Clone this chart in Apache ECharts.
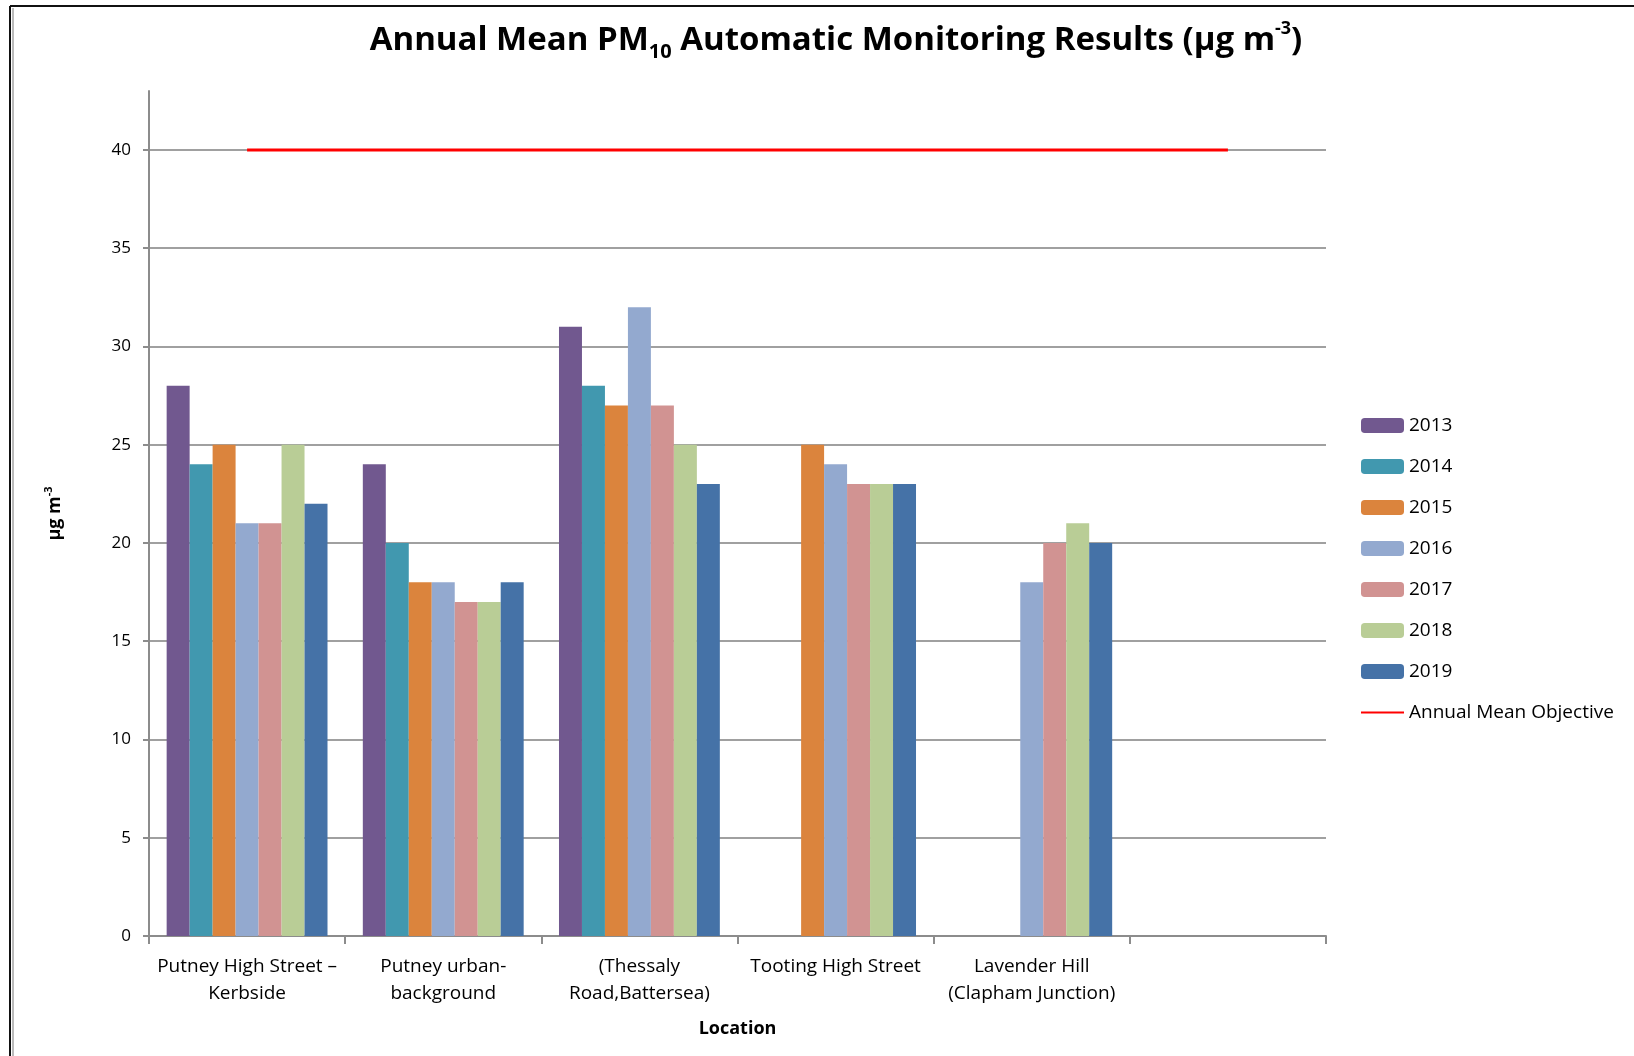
<!DOCTYPE html>
<html><head><meta charset="utf-8">
<script src="https://cdn.jsdelivr.net/npm/echarts@6/dist/echarts.min.js"></script>
<style>html,body{margin:0;padding:0;background:#fff}#c{width:1634px;height:1056px}</style>
</head><body><div id="c"></div>
<script>
const categories = ["Putney High Street \u2013\nKerbside", "Putney urban-\nbackground", "(Thessaly\nRoad,Battersea)", "Tooting High Street", "Lavender Hill\n(Clapham Junction)", ""];
const years = ["2013","2014","2015","2016","2017","2018","2019"];
const v2013 = [28, 24, 31, null, null, null];
const v2014 = [24, 20, 28, null, null, null];
const v2015 = [25, 18, 27, 25, null, null];
const v2016 = [21, 18, 32, 24, 18, null];
const v2017 = [21, 17, 27, 23, 20, null];
const v2018 = [25, 17, 25, 23, 21, null];
const v2019 = [22, 18, 23, 23, 20, null];
const objective = [40, 40, 40, 40, 40, 40];
const yTicks = [0, 5, 10, 15, 20, 25, 30, 35, 40];
const colors = ["#71588F","#4198AF","#DB843D","#93A9CF","#D19392","#B9CD96","#4572A7"];
const FONT = "Open Sans";
const seriesVals = [v2013, v2014, v2015, v2016, v2017, v2018, v2019];

const series = years.map((y, i) => ({
  name: y, type: 'bar', data: seriesVals[i], barGap: '0%', barCategoryGap: '18%',
  itemStyle: { color: colors[i] }
}));
series.push({
  name: 'Annual Mean Objective', type: 'line', data: objective, symbol: 'none',
  lineStyle: { color: '#FF0000', width: 3 }, itemStyle: { color: '#FF0000' }
});

const legendData = years.map(y => ({ name: y }));
legendData.push({ name: 'Annual Mean Objective', itemStyle: { opacity: 0 } });

const chart = echarts.init(document.getElementById('c'));
chart.setOption({
  animation: false,
  textStyle: { fontFamily: FONT },
  title: {
    text: '{t|Annual Mean PM}{sub|10}{t| Automatic Monitoring Results (\u00b5g m}{sup|-3}{t|)}',
    left: 831, textAlign: 'center', top: 15,
    textStyle: {
      rich: {
        t: { fontFamily: FONT, fontWeight: 'bold', fontSize: 33, color: '#000', lineHeight: 42 },
        sub: { fontFamily: FONT, fontWeight: 'bold', fontSize: 20, color: '#000', verticalAlign: 'bottom' },
        sup: { fontFamily: FONT, fontWeight: 'bold', fontSize: 18, color: '#000', verticalAlign: 'top' }
      }
    }
  },
  legend: {
    orient: 'vertical', left: 1355, top: 411, itemWidth: 43, itemHeight: 15, itemGap: 22,
    textStyle: { fontFamily: FONT, fontSize: 19, color: '#000', padding: [0,0,0,0] },
    data: legendData
  },
  grid: { left: 149, right: 308, top: 91, bottom: 120, containLabel: false },
  xAxis: {
    type: 'category', data: categories,
    name: 'Location', nameLocation: 'middle', nameGap: 84,
    nameTextStyle: { fontFamily: FONT, fontWeight: 'bold', fontSize: 18, color: '#000' },
    axisLine: { lineStyle: { color: '#8c8c8c', width: 2 } },
    axisTick: { show: true, length: 8, lineStyle: { color: '#8c8c8c', width: 2 } },
    axisLabel: { interval: 0, fontFamily: FONT, fontSize: 19, color: '#000', lineHeight: 27, margin: 17, verticalAlign: 'top' }
  },
  yAxis: {
    type: 'value', min: 0, max: 43, interval: 5,
    name: '{a|\u00b5g m}{s|-3}', nameLocation: 'middle', nameGap: 82, nameRotate: 90,
    nameTextStyle: { rich: {
      a: { fontFamily: FONT, fontWeight: 'bold', fontSize: 18, color: '#000', lineHeight: 24 },
      s: { fontFamily: FONT, fontWeight: 'bold', fontSize: 11, color: '#000', verticalAlign: 'top' }
    } },
    axisLine: { show: true, lineStyle: { color: '#8c8c8c', width: 2 } },
    axisTick: { show: true, length: 6, customValues: yTicks, lineStyle: { color: '#8c8c8c', width: 2 } },
    axisLabel: { customValues: yTicks, fontFamily: FONT, fontSize: 17, color: '#000', margin: 18 },
    splitLine: { show: true, lineStyle: { color: ['#a0a0a0','#a0a0a0','#a0a0a0','#a0a0a0','#a0a0a0','#a0a0a0','#a0a0a0','#a0a0a0','#a0a0a0','rgba(0,0,0,0)'], width: 2 } }
  },
  graphic: [
    { type: 'line', shape: { x1: 10, y1: 6, x2: 1634, y2: 6 }, style: { stroke: '#111', lineWidth: 2 } },
    { type: 'line', shape: { x1: 10, y1: 6, x2: 10, y2: 1056 }, style: { stroke: '#111', lineWidth: 2 } },
    { type: 'line', shape: { x1: 13, y1: 8, x2: 13, y2: 1056 }, style: { stroke: '#bbb', lineWidth: 2 } }
  ],
  series: series
});
</script></body></html>
